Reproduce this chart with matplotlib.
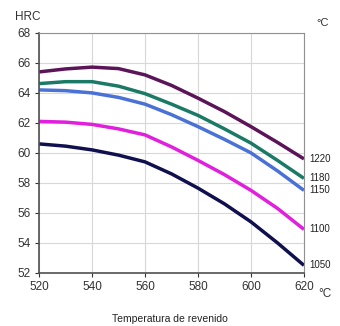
import matplotlib
matplotlib.use("Agg")
import matplotlib.pyplot as plt

temps = [520, 530, 540, 550, 560, 570, 580, 590, 600, 610, 620]
labels = ["1220", "1180", "1150", "1100", "1050"]
hrc_1220 = [65.4, 65.6, 65.72, 65.62, 65.2, 64.5, 63.65, 62.75, 61.75, 60.7, 59.6]
hrc_1180 = [64.62, 64.75, 64.75, 64.45, 63.95, 63.25, 62.5, 61.6, 60.65, 59.5, 58.3]
hrc_1150 = [64.2, 64.15, 64.0, 63.7, 63.25, 62.55, 61.75, 60.9, 60.0, 58.8, 57.5]
hrc_1100 = [62.1, 62.05, 61.9, 61.6, 61.2, 60.4, 59.5, 58.55, 57.5, 56.3, 54.9]
hrc_1050 = [60.6, 60.45, 60.2, 59.85, 59.4, 58.6, 57.65, 56.6, 55.4, 54.0, 52.5]
series = [hrc_1220, hrc_1180, hrc_1150, hrc_1100, hrc_1050]
colors = ["#5c1458", "#1b7a66", "#4a72d6", "#e020dc", "#10104e"]

plt.rcParams['font.family'] = ['Liberation Sans', 'DejaVu Sans']
fig = plt.figure(figsize=(3.4, 3.26), dpi=100)
ax = fig.add_axes([0.115, 0.163, 0.779, 0.736])

for vals, c in zip(series, colors):
    ax.plot(temps, vals, color=c, lw=2.5, solid_capstyle='butt', solid_joinstyle='round')

ax.set_xlim(520, 620)
ax.set_ylim(52, 68)
ax.set_xticks(range(520, 621, 20))
ax.set_yticks(range(52, 69, 2))
ax.grid(True, color='#d8d8d8', lw=0.8)
ax.set_axisbelow(True)
for s in ['top', 'right']:
    ax.spines[s].set_color('#909090')
for s in ['left', 'bottom']:
    ax.spines[s].set_color('#505050')
    ax.spines[s].set_linewidth(1.2)
ax.tick_params(labelsize=8.5, colors='#333333', length=3, width=0.8, pad=3)

for lab, vals, c in zip(labels, series, colors):
    ax.annotate(lab, xy=(620, vals[-1]), xytext=(4, 0), textcoords='offset points',
                fontsize=7, va='center', ha='left', color='#222222', annotation_clip=False)

fig.text(0.044, 0.948, "HRC", fontsize=8.5, color='#333333', va='center', ha='left')
fig.text(0.93, 0.93, "°C", fontsize=8, color='#333333', va='center', ha='left')
fig.text(0.935, 0.098, "°C", fontsize=8.5, color='#333333', va='center', ha='left')
fig.text(0.5, 0.02, "Temperatura de revenido", fontsize=7.5, color='#222222', va='center', ha='center')

fig.savefig("out.png", dpi=100)
